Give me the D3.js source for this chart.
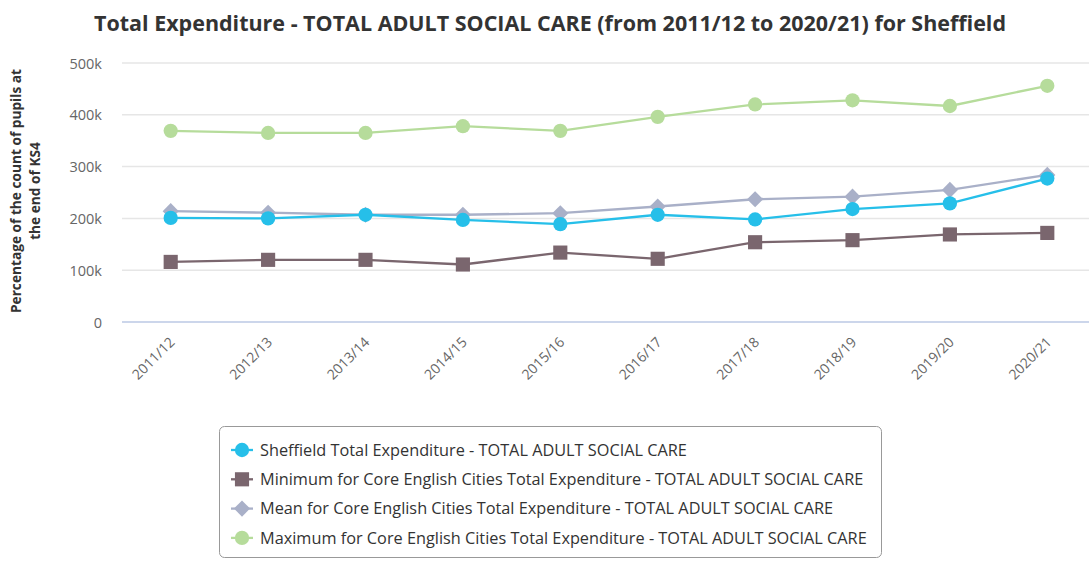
<!DOCTYPE html>
<html><head><meta charset="utf-8">
<script src="https://cdn.jsdelivr.net/npm/d3@7"></script>
<style>body{margin:0;background:#fff;}svg{display:block;font-family:"Open Sans",sans-serif;}</style>
</head><body>
<svg id="c" width="1089" height="561"></svg>
<script>
const categories = ["2011/12","2012/13","2013/14","2014/15","2015/16","2016/17","2017/18","2018/19","2019/20","2020/21"];
const sheffield = [201000,200000,207000,197000,189000,207000,198000,218000,229000,277000];
const minimum   = [116000,120000,120000,111000,134000,122000,154000,158000,169000,172000];
const mean      = [214000,211000,207000,207000,210000,223000,237000,242000,255000,284000];
const maximum   = [369000,365000,365000,378000,369000,396000,420000,428000,417000,456000];
const yTicks = [0,100000,200000,300000,400000,500000];
const seriesNames = [
  "Sheffield Total Expenditure - TOTAL ADULT SOCIAL CARE",
  "Minimum for Core English Cities Total Expenditure - TOTAL ADULT SOCIAL CARE",
  "Mean for Core English Cities Total Expenditure - TOTAL ADULT SOCIAL CARE",
  "Maximum for Core English Cities Total Expenditure - TOTAL ADULT SOCIAL CARE"
];
const series = [
  {name: seriesNames[0], values: sheffield, color: "#26bfe9", sym: "circle"},
  {name: seriesNames[1], values: minimum, color: "#7a666e", sym: "square"},
  {name: seriesNames[2], values: mean, color: "#a9b0c8", sym: "diamond"},
  {name: seriesNames[3], values: maximum, color: "#b6dc9b", sym: "circle"}
];
const svg = d3.select("#c");
const x = d3.scaleBand().domain(categories).range([122, 1096]);
const y = d3.scaleLinear().domain([0, 500000]).range([322, 63]);

svg.append("text").attr("x", 550).attr("y", 31).attr("text-anchor","middle")
  .attr("font-size", 21.5).attr("font-weight", "bold").attr("fill", "#333")
  .attr("textLength", 912).attr("lengthAdjust","spacingAndGlyphs")
  .text("Total Expenditure - TOTAL ADULT SOCIAL CARE (from 2011/12 to 2020/21) for Sheffield");

// grid
const grid = svg.append("g");
yTicks.forEach(t => {
  grid.append("line").attr("x1",122).attr("x2",1089).attr("y1",y(t)).attr("y2",y(t))
    .attr("stroke", t===0 ? "#ccd6eb" : "#e6e6e6").attr("stroke-width", t===0?2:1.5);
});
// y axis labels
const yAxis = d3.axisLeft(y).tickValues(yTicks).tickSize(0).tickPadding(0)
  .tickFormat(d => d===0 ? "0" : (d/1000)+"k");
const ya = svg.append("g").attr("transform","translate(102,0)").call(yAxis);
ya.select(".domain").remove();
ya.selectAll("text").attr("font-size", 14.5).attr("fill","#666").attr("font-family","Open Sans").attr("dy","0.35em");

// x axis labels
const xAxis = d3.axisBottom(x).tickSize(0).tickPadding(0);
const xa = svg.append("g").attr("transform","translate(0,322)").call(xAxis);
xa.select(".domain").remove();
xa.selectAll("text").attr("font-size", 14).attr("fill","#666").attr("font-family","Open Sans")
  .attr("text-anchor","end").attr("dy", null).attr("y", 0)
  .attr("transform", "translate(5,21) rotate(-45)");

// y title
svg.append("text").attr("transform","translate(21,191) rotate(-90)").attr("text-anchor","middle")
  .attr("font-size",13.7).attr("font-weight","bold").attr("fill","#333")
  .selectAll("tspan").data(["Percentage of the count of pupils at","the end of KS4"]).join("tspan")
  .attr("x",0).attr("dy",(d,i)=> i===0? 0 : 19).text(d=>d);

function symbolPath(sym){
  if (sym==="circle") return d3.symbol(d3.symbolCircle, 160)();
  if (sym==="square") return d3.symbol(d3.symbolSquare, 200)();
  return d3.symbol(d3.symbolSquare, 130)();
}
const cx = i => x(categories[i]) + x.bandwidth()/2;
const line = d3.line().x((d,i)=>cx(i)).y(d=>y(d));
const order = [1,3,2,0];
order.forEach(k => {
  const s = series[k];
  const g = svg.append("g");
  g.append("path").attr("d", line(s.values)).attr("fill","none").attr("stroke", s.color).attr("stroke-width",2.3);
  g.selectAll("path.m").data(s.values).join("path").attr("class","m")
    .attr("d", symbolPath(s.sym))
    .attr("transform",(d,i)=>`translate(${cx(i)},${y(d)})${s.sym==="diamond"?" rotate(45)":""}`)
    .attr("fill", s.color);
});

// legend
const lg = svg.append("g");
lg.append("rect").attr("x",219.5).attr("y",426.5).attr("width",662).attr("height",131).attr("rx",5)
  .attr("fill","#fff").attr("stroke","#999").attr("stroke-width",1);
series.forEach((s,i) => {
  const yy = 450 + i*29.3;
  lg.append("line").attr("x1",231).attr("x2",253).attr("y1",yy).attr("y2",yy).attr("stroke",s.color).attr("stroke-width",2.3);
  lg.append("path").attr("d", symbolPath(s.sym)).attr("transform",`translate(242,${yy})${s.sym==="diamond"?" rotate(45)":""}`).attr("fill",s.color);
  lg.append("text").attr("x",260).attr("y",yy).attr("dy","0.35em").attr("font-size",16.3).attr("fill","#333").text(s.name);
});
</script>
</body></html>
